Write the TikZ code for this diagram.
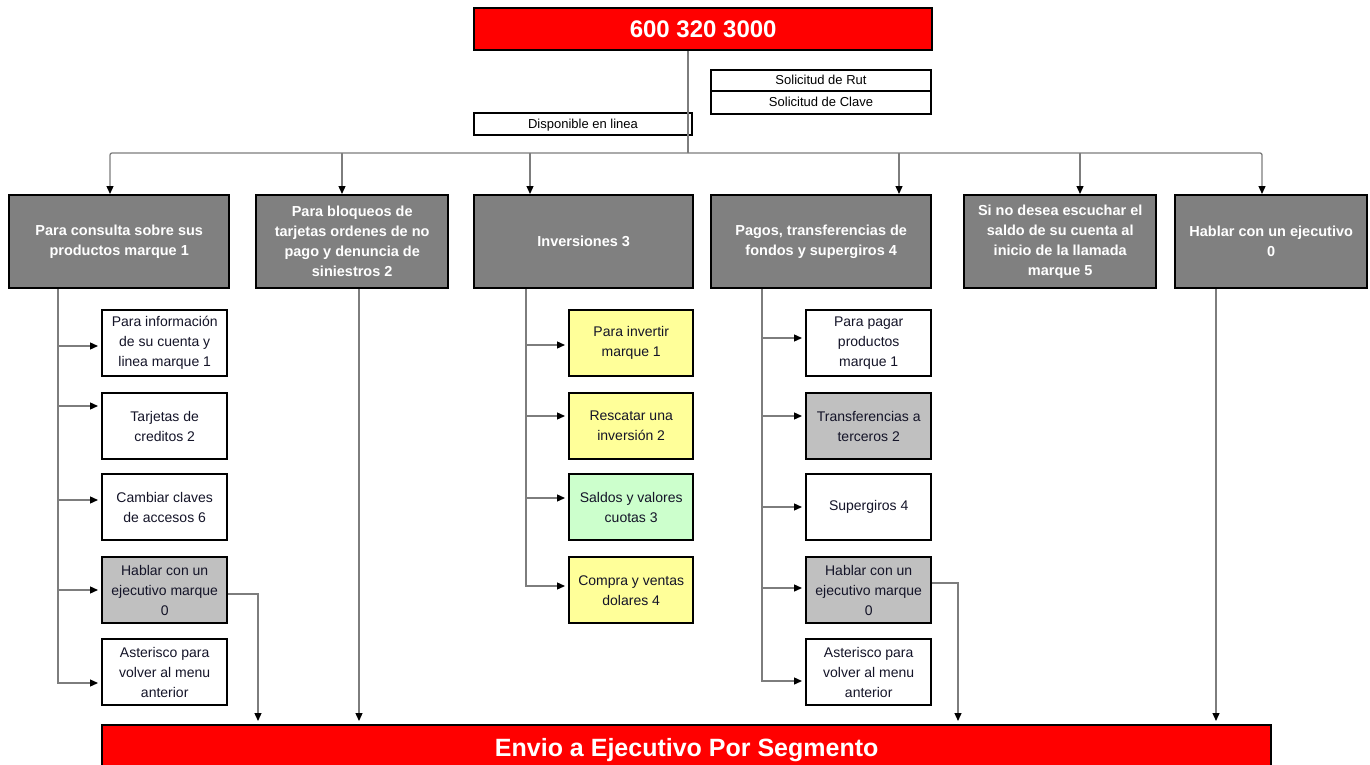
\documentclass[tikz,border=0pt]{standalone}
\usepackage{fontspec}
\setmainfont{Liberation Sans}
\usetikzlibrary{arrows.meta}
\definecolor{menugray}{RGB}{128,128,128}
\definecolor{optgray}{RGB}{192,192,192}
\definecolor{optyellow}{RGB}{255,255,153}
\definecolor{optgreen}{RGB}{204,255,204}
\definecolor{wirecol}{RGB}{125,125,125}
\definecolor{optext}{RGB}{20,20,40}
\begin{document}
\begin{tikzpicture}[x=1pt,y=-1pt,
  box/.style={draw=black,line width=2.4pt,anchor=north west,inner sep=0pt,align=center},
  banner/.style={box,fill=red,text=white,font=\fontsize{24}{28}\selectfont\bfseries},
  menu/.style={box,fill=menugray,text=white,minimum height=93,
               font=\fontsize{14.5}{20}\selectfont\bfseries},
  opt/.style={box,fill=white,text=optext,minimum height=66,
              font=\fontsize{14}{20}\selectfont},
  lbl/.style={box,line width=2pt,fill=white,text depth=1pt,
              font=\fontsize{13}{14}\selectfont},
  wire/.style={draw=wirecol,line width=1.3pt},
  arr/.style={wire,-{Triangle[length=8pt,width=7pt,color=black]}},
  sidearr/.style={arr,shorten >=3pt},
]
\clip (0,0) rectangle (1370,765);

% phone number banner and the prompts under it
\node[banner,minimum width=458,minimum height=42] (top) at (473,7) {600 320 3000};
\node[lbl,minimum width=220,minimum height=21] (rut) at (710,69) {Solicitud de Rut};
\node[lbl,minimum width=220,minimum height=23] (clave) at (710,90) {Solicitud de Clave};
\node[lbl,minimum width=218,minimum height=22] (disp) at (473,112) {Disponible en linea};

% main menu options
\node[menu,minimum width=220] (b1) at (8,194) {Para consulta sobre sus\\productos marque 1};
\node[menu,minimum width=192] (b2) at (255,194) {Para bloqueos de\\tarjetas ordenes de no\\pago y denuncia de\\siniestros 2};
\node[menu,minimum width=219] (b3) at (473,194) {Inversiones 3};
\node[menu,minimum width=220] (b4) at (710,194) {Pagos, transferencias de\\fondos y supergiros 4};
\node[menu,minimum width=192] (b5) at (963,194) {Si no desea escuchar el\\saldo de su cuenta al\\inicio de la llamada\\marque 5};
\node[menu,minimum width=192] (b6) at (1174,194) {Hablar con un ejecutivo\\0};

% submenu: productos
\node[opt,minimum width=125] (s11) at (101,309) {Para información\\de su cuenta y\\linea marque 1};
\node[opt,minimum width=125] (s12) at (101,392) {Tarjetas de\\creditos 2};
\node[opt,minimum width=125] (s13) at (101,473) {Cambiar claves\\de accesos 6};
\node[opt,minimum width=125,fill=optgray] (s14) at (101,556) {Hablar con un\\ejecutivo marque\\0};
\node[opt,minimum width=125] (s15) at (101,638) {Asterisco para\\volver al menu\\anterior};

% submenu: inversiones
\node[opt,minimum width=124,fill=optyellow] (s31) at (568,309) {Para invertir\\marque 1};
\node[opt,minimum width=124,fill=optyellow] (s32) at (568,392) {Rescatar una\\inversión 2};
\node[opt,minimum width=124,fill=optgreen] (s33) at (568,473) {Saldos y valores\\cuotas 3};
\node[opt,minimum width=124,fill=optyellow] (s34) at (568,556) {Compra y ventas\\dolares 4};

% submenu: pagos
\node[opt,minimum width=125] (s41) at (805,309) {Para pagar\\productos\\marque 1};
\node[opt,minimum width=125,fill=optgray] (s42) at (805,392) {Transferencias a\\terceros 2};
\node[opt,minimum width=125] (s43) at (805,473) {Supergiros 4};
\node[opt,minimum width=125,fill=optgray] (s44) at (805,556) {Hablar con un\\ejecutivo marque\\0};
\node[opt,minimum width=125] (s45) at (805,638) {Asterisco para\\volver al menu\\anterior};

% executive routing
\node[banner,minimum width=1169,minimum height=50,
      font=\fontsize{25}{28}\selectfont\bfseries] (out) at (101,724) {Envio a Ejecutivo Por Segmento};

% trunk and distribution bus
\coordinate (hub) at (688,153);
\draw[wire] (top.south -| hub) -- (hub);
\draw[arr,rounded corners=2pt] (hub) -| (110,0 |- b1.north);
\draw[arr,rounded corners=2pt] (hub) -| (1262,0 |- b6.north);
\coordinate (d2) at (342,153);
\coordinate (d3) at (530,153);
\coordinate (d4) at (899,153);
\coordinate (d5) at (1080,153);
\draw[arr] (d2) -- (d2 |- b2.north);
\draw[arr] (d3) -- (d3 |- b3.north);
\draw[arr] (d4) -- (d4 |- b4.north);
\draw[arr] (d5) -- (d5 |- b5.north);

% branches of the productos menu
\coordinate (v1) at (b1.south -| 58,0);
\draw[sidearr] (v1) |- (s15.west |- 0,683);
\foreach \n/\yy in {s11/346,s12/406,s13/500,s14/590}
  \draw[sidearr] (v1 |- 0,\yy) -- (\n.west |- 0,\yy);

% branches of the inversiones menu
\coordinate (v3) at (b3.south -| 526,0);
\draw[sidearr] (v3) |- (s34.west |- 0,586);
\foreach \n/\yy in {s31/345,s32/416,s33/498}
  \draw[sidearr] (v3 |- 0,\yy) -- (\n.west |- 0,\yy);

% branches of the pagos menu
\coordinate (v4) at (b4.south -| 762,0);
\draw[sidearr] (v4) |- (s45.west |- 0,681);
\foreach \n/\yy in {s41/338,s42/416,s43/507,s44/588}
  \draw[sidearr] (v4 |- 0,\yy) -- (\n.west |- 0,\yy);

% connections to the executive
\draw[arr,shorten >=3pt] (s14.east |- 0,594) -| (258,0 |- out.north);
\draw[arr,shorten >=3pt] (b2.south -| 359,0) -- (359,0 |- out.north);
\draw[arr,shorten >=3pt] (s44.east |- 0,583) -| (958,0 |- out.north);
\draw[arr,shorten >=3pt] (b6.south -| 1216,0) -- (1216,0 |- out.north);
\end{tikzpicture}
\end{document}
